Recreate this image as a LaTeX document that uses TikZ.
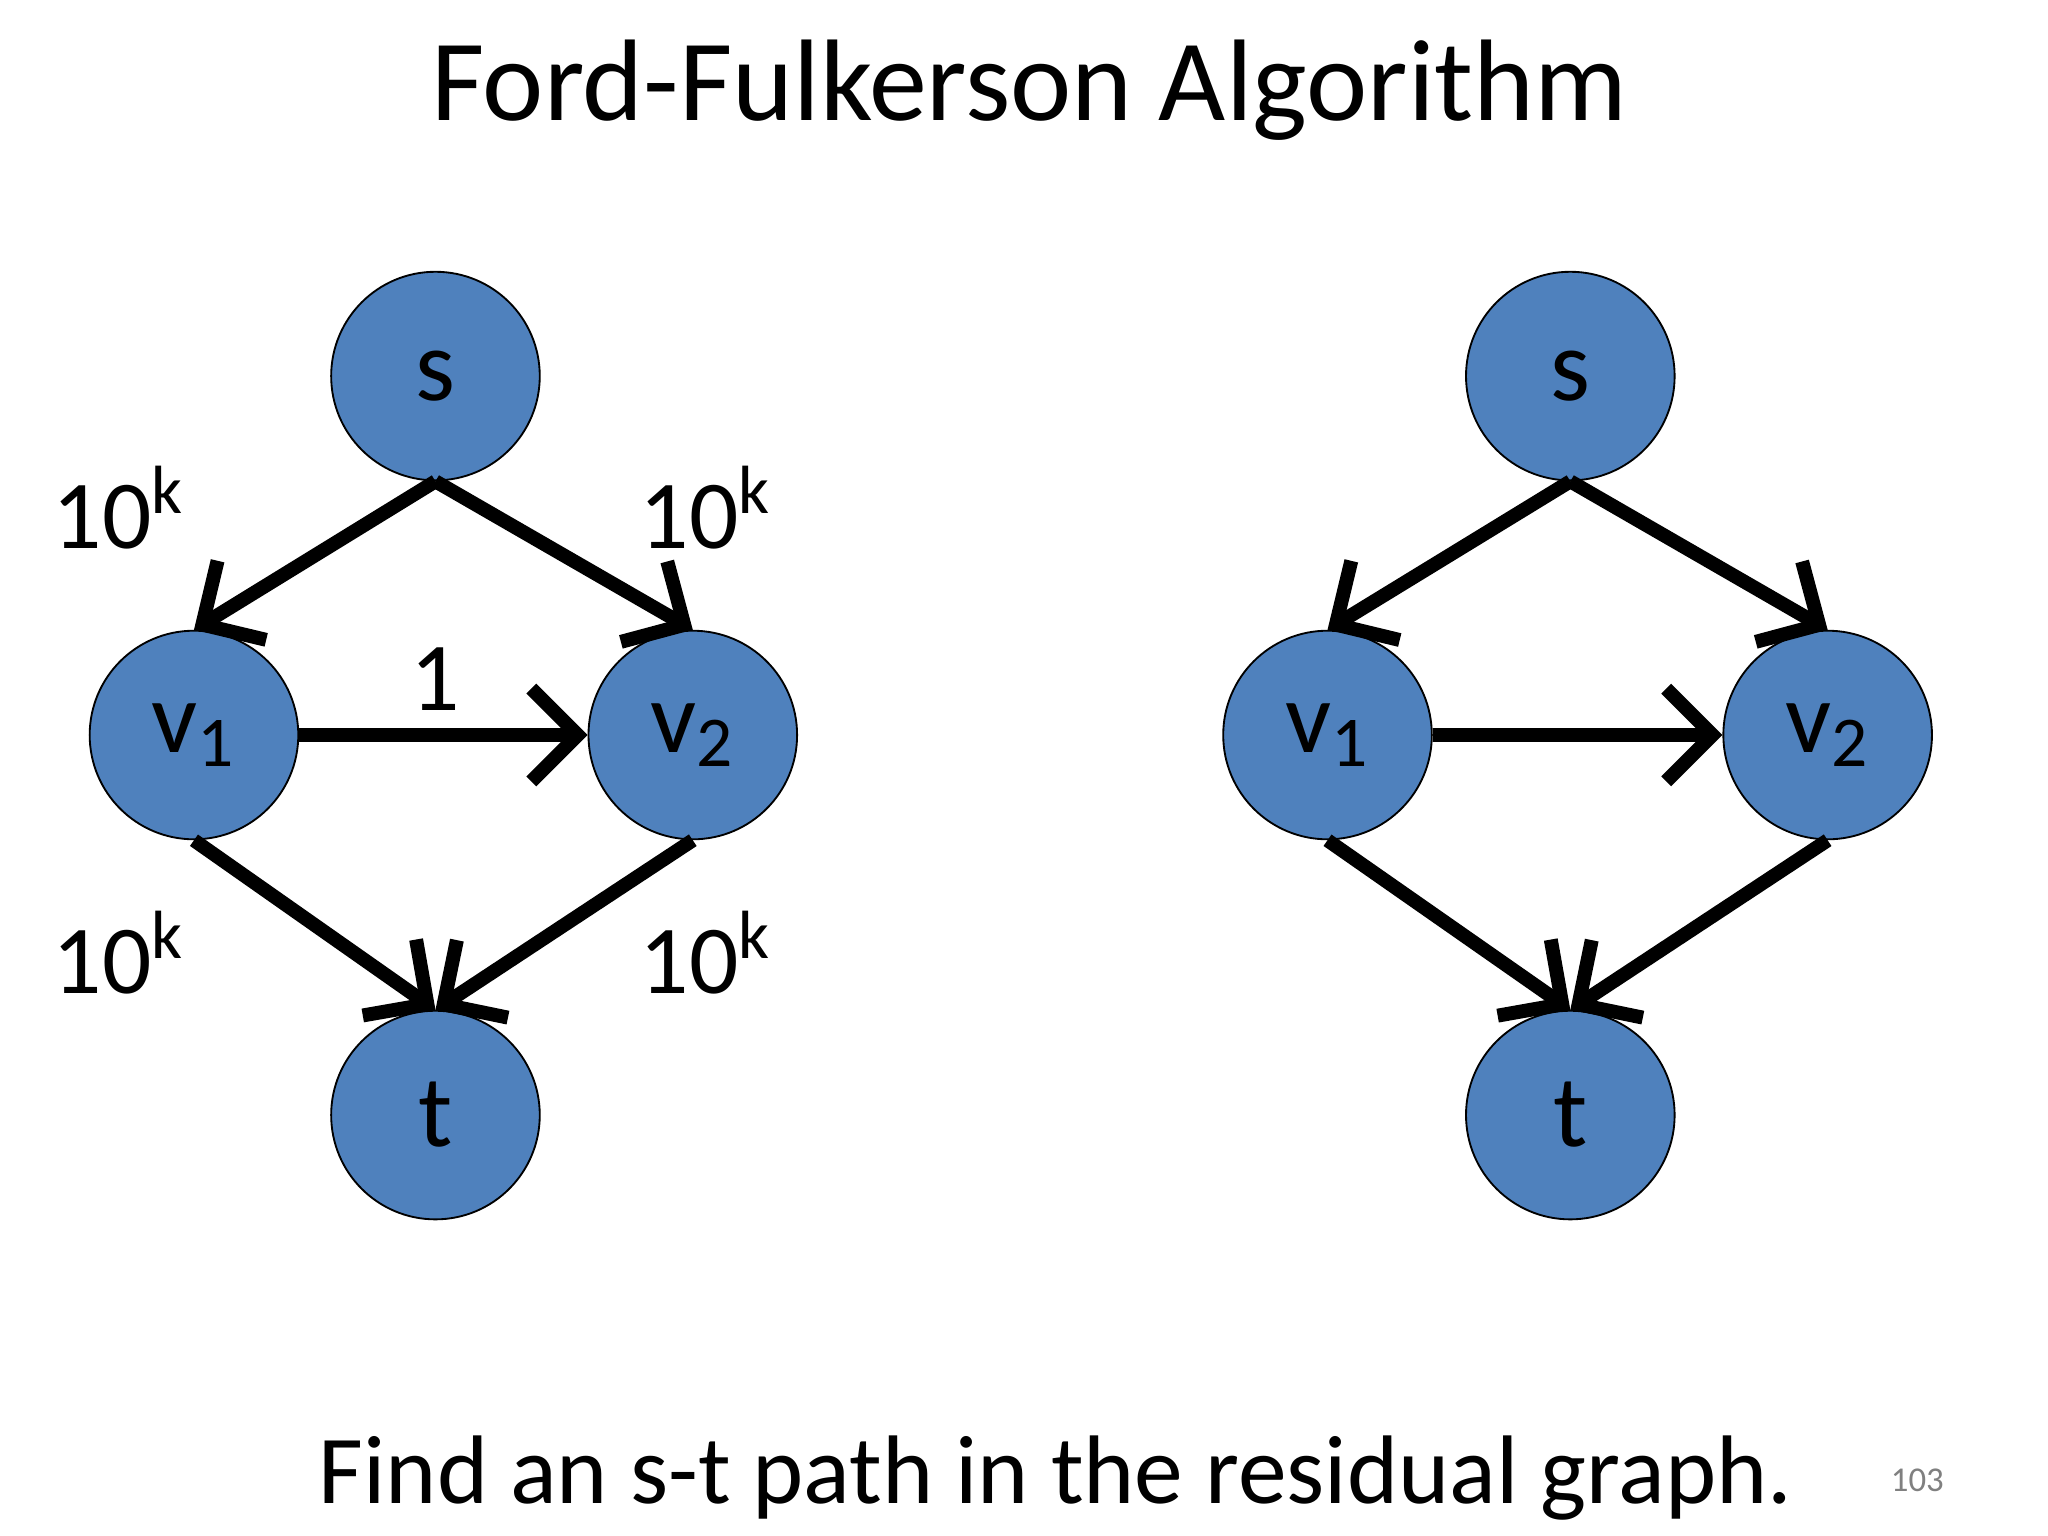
\documentclass[tikz,border=0pt]{standalone}
\usepackage{fontspec}
\setmainfont{Carlito}
\usetikzlibrary{arrows.meta}
\definecolor{nodeblue}{HTML}{4F81BD}
\begin{document}
\begin{tikzpicture}[x=0.01cm,y=-0.01cm,
	vert/.style={circle, draw=black, thin, fill=nodeblue, minimum size=1.58cm, inner sep=0pt, font=\fontsize{22}{24}\selectfont},
	flow/.style={line width=3pt, -{Straight Barb[length=10pt, width=20pt, line width=3pt]}},
	capa/.style={font=\fontsize{21}{24}\selectfont},
]
	\useasboundingbox (0,0) rectangle (1552,1164);
	\node (title) at (780,68) {\fontsize{25}{28}\selectfont Ford-Fulkerson Algorithm};
	% left graph
	\node[vert] (s) at (330,285) {s};
	\node[vert] (v1) at (147,557) {v\textsubscript{1}};
	\node[vert] (v2) at (525,557) {v\textsubscript{2}};
	\node[vert] (t) at (330,845) {t};
	\draw[flow] (s.south) -- (v1.north);
	\draw[flow] (s.south) -- (v2.north);
	\draw[flow] (v1.east) -- (v2.west);
	\draw[flow] (v1.south) -- (t.north);
	\draw[flow] (v2.south) -- (t.north);
	\node[capa] (c1) at (90,385) {10\textsuperscript{k}};
	\node[capa] (c2) at (535,385) {10\textsuperscript{k}};
	\node[capa] (c3) at (330,515) {1};
	\node[capa] (c4) at (90,722) {10\textsuperscript{k}};
	\node[capa] (c5) at (535,722) {10\textsuperscript{k}};
	% right graph (residual)
	\node[vert] (rs) at (1190,285) {s};
	\node[vert] (rv1) at (1006,557) {v\textsubscript{1}};
	\node[vert] (rv2) at (1385,557) {v\textsubscript{2}};
	\node[vert] (rt) at (1190,845) {t};
	\draw[flow] (rs.south) -- (rv1.north);
	\draw[flow] (rs.south) -- (rv2.north);
	\draw[flow] (rv1.east) -- (rv2.west);
	\draw[flow] (rv1.south) -- (rt.north);
	\draw[flow] (rv2.south) -- (rt.north);
	% footer
	\node (note) at (800,1120) {\fontsize{21}{24}\selectfont Find an s-t path in the residual graph.};
	\node[text=gray] (page) at (1453,1122) {\fontsize{7.5}{9}\selectfont 103};
\end{tikzpicture}
\end{document}
